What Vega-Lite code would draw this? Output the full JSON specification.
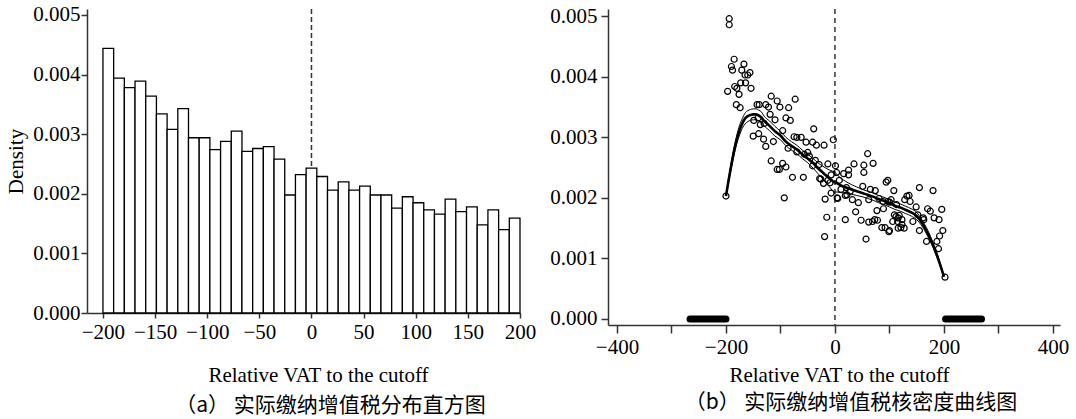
{
  "$schema": "https://vega.github.io/schema/vega-lite/v6.json",
  "background": "white",
  "padding": {"left": 5, "top": 3, "right": 0, "bottom": 3},
  "spacing": 13,
  "datasets": {
    "bins": [
      {"x0": -200, "x1": -189.744, "d": 0.00444},
      {"x0": -189.744, "x1": -179.487, "d": 0.00394},
      {"x0": -179.487, "x1": -169.231, "d": 0.00378},
      {"x0": -169.231, "x1": -158.974, "d": 0.00389},
      {"x0": -158.974, "x1": -148.718, "d": 0.00364},
      {"x0": -148.718, "x1": -138.462, "d": 0.00334},
      {"x0": -138.462, "x1": -128.205, "d": 0.00308},
      {"x0": -128.205, "x1": -117.949, "d": 0.00343},
      {"x0": -117.949, "x1": -107.692, "d": 0.00294},
      {"x0": -107.692, "x1": -97.436, "d": 0.00294},
      {"x0": -97.436, "x1": -87.179, "d": 0.00274},
      {"x0": -87.179, "x1": -76.923, "d": 0.00288},
      {"x0": -76.923, "x1": -66.667, "d": 0.00305},
      {"x0": -66.667, "x1": -56.41, "d": 0.00271},
      {"x0": -56.41, "x1": -46.154, "d": 0.00276},
      {"x0": -46.154, "x1": -35.897, "d": 0.00279},
      {"x0": -35.897, "x1": -25.641, "d": 0.00258},
      {"x0": -25.641, "x1": -15.385, "d": 0.00198},
      {"x0": -15.385, "x1": -5.128, "d": 0.00232},
      {"x0": -5.128, "x1": 5.128, "d": 0.00243},
      {"x0": 5.128, "x1": 15.385, "d": 0.00229},
      {"x0": 15.385, "x1": 25.641, "d": 0.00206},
      {"x0": 25.641, "x1": 35.897, "d": 0.0022},
      {"x0": 35.897, "x1": 46.154, "d": 0.00206},
      {"x0": 46.154, "x1": 56.41, "d": 0.00213},
      {"x0": 56.41, "x1": 66.667, "d": 0.00198},
      {"x0": 66.667, "x1": 76.923, "d": 0.00198},
      {"x0": 76.923, "x1": 87.179, "d": 0.00176},
      {"x0": 87.179, "x1": 97.436, "d": 0.00195},
      {"x0": 97.436, "x1": 107.692, "d": 0.00185},
      {"x0": 107.692, "x1": 117.949, "d": 0.00173},
      {"x0": 117.949, "x1": 128.205, "d": 0.00166},
      {"x0": 128.205, "x1": 138.462, "d": 0.00191},
      {"x0": 138.462, "x1": 148.718, "d": 0.0017},
      {"x0": 148.718, "x1": 158.974, "d": 0.00178},
      {"x0": 158.974, "x1": 169.231, "d": 0.00148},
      {"x0": 169.231, "x1": 179.487, "d": 0.00173},
      {"x0": 179.487, "x1": 189.744, "d": 0.0014},
      {"x0": 189.744, "x1": 200, "d": 0.00159}
    ],
    "cutL": [{"x0": 0}],
    "cutR": [{"x": 0}],
    "rug": [{"x": -266, "x2": -200}, {"x": 203, "x2": 269}],
    "pts": [
      {"x": -200, "y": 0.00203}, {"x": -194, "y": 0.00496}, {"x": -194, "y": 0.00486}, {"x": -185, "y": 0.00429},
      {"x": -190, "y": 0.00417}, {"x": -188, "y": 0.00411}, {"x": -167, "y": 0.00421}, {"x": -171, "y": 0.00411},
      {"x": -165, "y": 0.00403}, {"x": -160, "y": 0.00403}, {"x": -156, "y": 0.00407}, {"x": -173, "y": 0.0039},
      {"x": -164, "y": 0.0039}, {"x": -184, "y": 0.00384}, {"x": -180, "y": 0.00381}, {"x": -154, "y": 0.00381},
      {"x": -197, "y": 0.00376}, {"x": -176, "y": 0.00371}, {"x": -181, "y": 0.00354}, {"x": -174, "y": 0.00349},
      {"x": -143, "y": 0.00354}, {"x": -139, "y": 0.00354}, {"x": -127, "y": 0.00354}, {"x": -122, "y": 0.0035},
      {"x": -117, "y": 0.00368}, {"x": -106, "y": 0.0036}, {"x": -101, "y": 0.0035}, {"x": -85, "y": 0.00349},
      {"x": -73, "y": 0.00363}, {"x": -119, "y": 0.00338}, {"x": -110, "y": 0.00329}, {"x": -90, "y": 0.00332},
      {"x": -82, "y": 0.00328}, {"x": -149, "y": 0.00328}, {"x": -141, "y": 0.00332}, {"x": -137, "y": 0.00321},
      {"x": -130, "y": 0.00323}, {"x": -150, "y": 0.00302}, {"x": -140, "y": 0.00306}, {"x": -131, "y": 0.00297},
      {"x": -127, "y": 0.00285}, {"x": -113, "y": 0.00293}, {"x": -96, "y": 0.00311}, {"x": -75, "y": 0.00301},
      {"x": -70, "y": 0.003}, {"x": -62, "y": 0.003}, {"x": -53, "y": 0.00292}, {"x": -41, "y": 0.00292},
      {"x": -34, "y": 0.00287}, {"x": -20, "y": 0.00287}, {"x": -39, "y": 0.00314}, {"x": -3, "y": 0.00296},
      {"x": -86, "y": 0.00282}, {"x": -70, "y": 0.00276}, {"x": -56, "y": 0.00272}, {"x": -47, "y": 0.00269},
      {"x": -117, "y": 0.00261}, {"x": -106, "y": 0.00247}, {"x": -102, "y": 0.00247}, {"x": -96, "y": 0.00257},
      {"x": -90, "y": 0.00251}, {"x": -78, "y": 0.00234}, {"x": -58, "y": 0.00234}, {"x": -41, "y": 0.00253},
      {"x": -29, "y": 0.00255}, {"x": -28, "y": 0.00232}, {"x": -21, "y": 0.00224}, {"x": -13, "y": 0.00229},
      {"x": -7, "y": 0.00238}, {"x": -36, "y": 0.00262}, {"x": -50, "y": 0.00275}, {"x": -93, "y": 0.002},
      {"x": -18, "y": 0.00198}, {"x": -7, "y": 0.00208}, {"x": -15, "y": 0.00168}, {"x": -19, "y": 0.00136},
      {"x": -9, "y": 0.00225}, {"x": -26, "y": 0.00231}, {"x": -13, "y": 0.00256},
      {"x": 1, "y": 0.00253}, {"x": 3, "y": 0.00242}, {"x": 4, "y": 0.002}, {"x": 5, "y": 0.00199},
      {"x": 8, "y": 0.00229}, {"x": 11, "y": 0.00214}, {"x": 16, "y": 0.0024}, {"x": 19, "y": 0.00164},
      {"x": 19, "y": 0.00204}, {"x": 21, "y": 0.00217}, {"x": 22, "y": 0.00205}, {"x": 25, "y": 0.00246},
      {"x": 25, "y": 0.00238}, {"x": 28, "y": 0.00211}, {"x": 32, "y": 0.00197}, {"x": 35, "y": 0.00256},
      {"x": 38, "y": 0.00177}, {"x": 43, "y": 0.00192}, {"x": 48, "y": 0.00163}, {"x": 51, "y": 0.00219},
      {"x": 53, "y": 0.00254}, {"x": 53, "y": 0.00242}, {"x": 57, "y": 0.00132}, {"x": 60, "y": 0.00273},
      {"x": 62, "y": 0.0016}, {"x": 62, "y": 0.00197}, {"x": 65, "y": 0.00214}, {"x": 69, "y": 0.00161},
      {"x": 70, "y": 0.00257}, {"x": 73, "y": 0.00164}, {"x": 74, "y": 0.00212}, {"x": 77, "y": 0.00179},
      {"x": 78, "y": 0.00163}, {"x": 81, "y": 0.00199}, {"x": 86, "y": 0.00151}, {"x": 88, "y": 0.00194},
      {"x": 89, "y": 0.00182}, {"x": 92, "y": 0.00151}, {"x": 94, "y": 0.00226}, {"x": 97, "y": 0.00229},
      {"x": 97, "y": 0.00194}, {"x": 99, "y": 0.00144}, {"x": 100, "y": 0.00146}, {"x": 100, "y": 0.00193},
      {"x": 103, "y": 0.00197}, {"x": 106, "y": 0.00161}, {"x": 108, "y": 0.00212}, {"x": 109, "y": 0.00172},
      {"x": 112, "y": 0.00169}, {"x": 113, "y": 0.00189}, {"x": 115, "y": 0.00161}, {"x": 116, "y": 0.00167},
      {"x": 116, "y": 0.0015}, {"x": 118, "y": 0.00171}, {"x": 121, "y": 0.00151}, {"x": 123, "y": 0.00156},
      {"x": 123, "y": 0.00164}, {"x": 127, "y": 0.0015}, {"x": 128, "y": 0.00197}, {"x": 132, "y": 0.00203},
      {"x": 136, "y": 0.00204}, {"x": 138, "y": 0.00194}, {"x": 143, "y": 0.00161}, {"x": 149, "y": 0.00185},
      {"x": 152, "y": 0.00172}, {"x": 155, "y": 0.00217}, {"x": 155, "y": 0.00146}, {"x": 162, "y": 0.00167},
      {"x": 163, "y": 0.00164}, {"x": 168, "y": 0.00128}, {"x": 170, "y": 0.00182}, {"x": 175, "y": 0.00178},
      {"x": 180, "y": 0.00212}, {"x": 182, "y": 0.00167}, {"x": 187, "y": 0.00128}, {"x": 190, "y": 0.00116},
      {"x": 191, "y": 0.00164}, {"x": 192, "y": 0.00137}, {"x": 196, "y": 0.00181}, {"x": 198, "y": 0.00146},
      {"x": 202, "y": 0.00069}
    ],
    "curves": [
      {"s": "Le", "k": "est", "x": -200, "y": 0.00203}, {"s": "Le", "k": "est", "x": -195, "y": 0.0023},
      {"s": "Le", "k": "est", "x": -190, "y": 0.00255}, {"s": "Le", "k": "est", "x": -185, "y": 0.00278},
      {"s": "Le", "k": "est", "x": -180, "y": 0.00297}, {"s": "Le", "k": "est", "x": -175, "y": 0.00312},
      {"s": "Le", "k": "est", "x": -170, "y": 0.00323}, {"s": "Le", "k": "est", "x": -165, "y": 0.00331},
      {"s": "Le", "k": "est", "x": -160, "y": 0.00335}, {"s": "Le", "k": "est", "x": -155, "y": 0.00337},
      {"s": "Le", "k": "est", "x": -150, "y": 0.00338}, {"s": "Le", "k": "est", "x": -145, "y": 0.00338},
      {"s": "Le", "k": "est", "x": -140, "y": 0.00336}, {"s": "Le", "k": "est", "x": -135, "y": 0.00333},
      {"s": "Le", "k": "est", "x": -130, "y": 0.00327}, {"s": "Le", "k": "est", "x": -120, "y": 0.00319},
      {"s": "Le", "k": "est", "x": -110, "y": 0.0031}, {"s": "Le", "k": "est", "x": -100, "y": 0.00303},
      {"s": "Le", "k": "est", "x": -90, "y": 0.00293}, {"s": "Le", "k": "est", "x": -80, "y": 0.00286},
      {"s": "Le", "k": "est", "x": -70, "y": 0.0028}, {"s": "Le", "k": "est", "x": -60, "y": 0.00272},
      {"s": "Le", "k": "est", "x": -50, "y": 0.00265}, {"s": "Le", "k": "est", "x": -40, "y": 0.00257},
      {"s": "Le", "k": "est", "x": -30, "y": 0.00248}, {"s": "Le", "k": "est", "x": -20, "y": 0.0024},
      {"s": "Le", "k": "est", "x": -10, "y": 0.00232}, {"s": "Le", "k": "est", "x": 0, "y": 0.00225},
      {"s": "Ll", "k": "ci", "x": -200, "y": 0.00203}, {"s": "Ll", "k": "ci", "x": -195, "y": 0.00227},
      {"s": "Ll", "k": "ci", "x": -190, "y": 0.0025}, {"s": "Ll", "k": "ci", "x": -185, "y": 0.00272},
      {"s": "Ll", "k": "ci", "x": -180, "y": 0.0029}, {"s": "Ll", "k": "ci", "x": -175, "y": 0.00304},
      {"s": "Ll", "k": "ci", "x": -170, "y": 0.00315}, {"s": "Ll", "k": "ci", "x": -165, "y": 0.00322},
      {"s": "Ll", "k": "ci", "x": -160, "y": 0.00326}, {"s": "Ll", "k": "ci", "x": -155, "y": 0.00328},
      {"s": "Ll", "k": "ci", "x": -150, "y": 0.00329}, {"s": "Ll", "k": "ci", "x": -145, "y": 0.00329},
      {"s": "Ll", "k": "ci", "x": -140, "y": 0.00327}, {"s": "Ll", "k": "ci", "x": -135, "y": 0.00324},
      {"s": "Ll", "k": "ci", "x": -130, "y": 0.00319}, {"s": "Ll", "k": "ci", "x": -120, "y": 0.00311},
      {"s": "Ll", "k": "ci", "x": -110, "y": 0.00302}, {"s": "Ll", "k": "ci", "x": -100, "y": 0.00296},
      {"s": "Ll", "k": "ci", "x": -90, "y": 0.00286}, {"s": "Ll", "k": "ci", "x": -80, "y": 0.00279},
      {"s": "Ll", "k": "ci", "x": -70, "y": 0.00273}, {"s": "Ll", "k": "ci", "x": -60, "y": 0.00265},
      {"s": "Ll", "k": "ci", "x": -50, "y": 0.00258}, {"s": "Ll", "k": "ci", "x": -40, "y": 0.00249},
      {"s": "Ll", "k": "ci", "x": -30, "y": 0.00239}, {"s": "Ll", "k": "ci", "x": -20, "y": 0.00229},
      {"s": "Ll", "k": "ci", "x": -10, "y": 0.00218}, {"s": "Ll", "k": "ci", "x": 0, "y": 0.00207},
      {"s": "Lh", "k": "ci", "x": -200, "y": 0.00203}, {"s": "Lh", "k": "ci", "x": -195, "y": 0.00233},
      {"s": "Lh", "k": "ci", "x": -190, "y": 0.0026}, {"s": "Lh", "k": "ci", "x": -185, "y": 0.00284},
      {"s": "Lh", "k": "ci", "x": -180, "y": 0.00304}, {"s": "Lh", "k": "ci", "x": -175, "y": 0.0032},
      {"s": "Lh", "k": "ci", "x": -170, "y": 0.00331}, {"s": "Lh", "k": "ci", "x": -165, "y": 0.0034},
      {"s": "Lh", "k": "ci", "x": -160, "y": 0.00344}, {"s": "Lh", "k": "ci", "x": -155, "y": 0.00346},
      {"s": "Lh", "k": "ci", "x": -150, "y": 0.00347}, {"s": "Lh", "k": "ci", "x": -145, "y": 0.00347},
      {"s": "Lh", "k": "ci", "x": -140, "y": 0.00345}, {"s": "Lh", "k": "ci", "x": -135, "y": 0.00342},
      {"s": "Lh", "k": "ci", "x": -130, "y": 0.00335}, {"s": "Lh", "k": "ci", "x": -120, "y": 0.00327},
      {"s": "Lh", "k": "ci", "x": -110, "y": 0.00318}, {"s": "Lh", "k": "ci", "x": -100, "y": 0.0031},
      {"s": "Lh", "k": "ci", "x": -90, "y": 0.003}, {"s": "Lh", "k": "ci", "x": -80, "y": 0.00293},
      {"s": "Lh", "k": "ci", "x": -70, "y": 0.00287}, {"s": "Lh", "k": "ci", "x": -60, "y": 0.00279},
      {"s": "Lh", "k": "ci", "x": -50, "y": 0.00272}, {"s": "Lh", "k": "ci", "x": -40, "y": 0.00265},
      {"s": "Lh", "k": "ci", "x": -30, "y": 0.00257}, {"s": "Lh", "k": "ci", "x": -20, "y": 0.00251},
      {"s": "Lh", "k": "ci", "x": -10, "y": 0.00246}, {"s": "Lh", "k": "ci", "x": 0, "y": 0.00243},
      {"s": "Re", "k": "est", "x": 0, "y": 0.00226}, {"s": "Re", "k": "est", "x": 10, "y": 0.00221},
      {"s": "Re", "k": "est", "x": 20, "y": 0.00217}, {"s": "Re", "k": "est", "x": 30, "y": 0.00214},
      {"s": "Re", "k": "est", "x": 40, "y": 0.00211}, {"s": "Re", "k": "est", "x": 50, "y": 0.00208},
      {"s": "Re", "k": "est", "x": 60, "y": 0.00205}, {"s": "Re", "k": "est", "x": 70, "y": 0.00202},
      {"s": "Re", "k": "est", "x": 80, "y": 0.00198}, {"s": "Re", "k": "est", "x": 90, "y": 0.00195},
      {"s": "Re", "k": "est", "x": 100, "y": 0.00191}, {"s": "Re", "k": "est", "x": 110, "y": 0.00187},
      {"s": "Re", "k": "est", "x": 120, "y": 0.00184}, {"s": "Re", "k": "est", "x": 130, "y": 0.0018},
      {"s": "Re", "k": "est", "x": 140, "y": 0.00176}, {"s": "Re", "k": "est", "x": 150, "y": 0.0017},
      {"s": "Re", "k": "est", "x": 160, "y": 0.00158}, {"s": "Re", "k": "est", "x": 170, "y": 0.00142},
      {"s": "Re", "k": "est", "x": 180, "y": 0.00122}, {"s": "Re", "k": "est", "x": 190, "y": 0.00098},
      {"s": "Re", "k": "est", "x": 200, "y": 0.0007},
      {"s": "Rl", "k": "ci", "x": 0, "y": 0.0021}, {"s": "Rl", "k": "ci", "x": 10, "y": 0.00209},
      {"s": "Rl", "k": "ci", "x": 20, "y": 0.00207}, {"s": "Rl", "k": "ci", "x": 30, "y": 0.00206},
      {"s": "Rl", "k": "ci", "x": 40, "y": 0.00204}, {"s": "Rl", "k": "ci", "x": 50, "y": 0.00202},
      {"s": "Rl", "k": "ci", "x": 60, "y": 0.00199}, {"s": "Rl", "k": "ci", "x": 70, "y": 0.00196},
      {"s": "Rl", "k": "ci", "x": 80, "y": 0.00192}, {"s": "Rl", "k": "ci", "x": 90, "y": 0.00189},
      {"s": "Rl", "k": "ci", "x": 100, "y": 0.00185}, {"s": "Rl", "k": "ci", "x": 110, "y": 0.00181},
      {"s": "Rl", "k": "ci", "x": 120, "y": 0.00178}, {"s": "Rl", "k": "ci", "x": 130, "y": 0.00174},
      {"s": "Rl", "k": "ci", "x": 140, "y": 0.0017}, {"s": "Rl", "k": "ci", "x": 150, "y": 0.00164},
      {"s": "Rl", "k": "ci", "x": 160, "y": 0.00153}, {"s": "Rl", "k": "ci", "x": 170, "y": 0.00137},
      {"s": "Rl", "k": "ci", "x": 180, "y": 0.00118}, {"s": "Rl", "k": "ci", "x": 190, "y": 0.00095},
      {"s": "Rl", "k": "ci", "x": 200, "y": 0.0007},
      {"s": "Rh", "k": "ci", "x": 0, "y": 0.00242}, {"s": "Rh", "k": "ci", "x": 10, "y": 0.00233},
      {"s": "Rh", "k": "ci", "x": 20, "y": 0.00227}, {"s": "Rh", "k": "ci", "x": 30, "y": 0.00222},
      {"s": "Rh", "k": "ci", "x": 40, "y": 0.00218}, {"s": "Rh", "k": "ci", "x": 50, "y": 0.00214},
      {"s": "Rh", "k": "ci", "x": 60, "y": 0.00211}, {"s": "Rh", "k": "ci", "x": 70, "y": 0.00208},
      {"s": "Rh", "k": "ci", "x": 80, "y": 0.00204}, {"s": "Rh", "k": "ci", "x": 90, "y": 0.00201},
      {"s": "Rh", "k": "ci", "x": 100, "y": 0.00197}, {"s": "Rh", "k": "ci", "x": 110, "y": 0.00193},
      {"s": "Rh", "k": "ci", "x": 120, "y": 0.0019}, {"s": "Rh", "k": "ci", "x": 130, "y": 0.00186},
      {"s": "Rh", "k": "ci", "x": 140, "y": 0.00182}, {"s": "Rh", "k": "ci", "x": 150, "y": 0.00176},
      {"s": "Rh", "k": "ci", "x": 160, "y": 0.00163}, {"s": "Rh", "k": "ci", "x": 170, "y": 0.00147},
      {"s": "Rh", "k": "ci", "x": 180, "y": 0.00126}, {"s": "Rh", "k": "ci", "x": 190, "y": 0.00101},
      {"s": "Rh", "k": "ci", "x": 200, "y": 0.0007}
    ]
  },
  "hconcat": [
    {
      "width": 433,
      "height": 304,
      "title": {"text": "（a） 实际缴纳增值税分布直方图", "orient": "bottom", "font": "Noto Sans CJK SC", "fontSize": 21, "fontWeight": "normal", "color": "#000", "offset": 10, "anchor": "middle", "dx": 27},
      "encoding": {
        "x": {
          "field": "x0", "type": "quantitative",
          "scale": {"domain": [-215.3, 200], "nice": false, "zero": false},
          "axis": {"values": [-200, -150, -100, -50, 0, 50, 100, 150, 200], "format": "d", "title": "Relative VAT to the cutoff", "tickSize": 5, "labelPadding": 3, "titlePadding": 22, "titleX": 231, "labelFont": "Liberation Serif", "titleFont": "Liberation Serif"}
        }
      },
      "layer": [
        {
          "data": {"name": "cutL"},
          "mark": {"type": "rule", "stroke": "#333", "strokeWidth": 1.5, "strokeDash": [5, 3]}
        },
        {
          "data": {"name": "bins"},
          "mark": {"type": "bar", "fill": "white", "stroke": "black", "strokeWidth": 1.3},
          "encoding": {
            "x2": {"field": "x1"},
            "y": {
              "field": "d", "type": "quantitative",
              "scale": {"domain": [0, 0.0051], "nice": false, "zero": true},
              "axis": {"values": [0, 0.001, 0.002, 0.003, 0.004, 0.005], "format": ".3f", "title": "Density", "tickSize": 6, "labelPadding": 1, "titlePadding": 6, "labelFont": "Liberation Serif", "titleFont": "Liberation Serif"}
            },
            "y2": {"datum": 0}
          }
        }
      ]
    },
    {
      "width": 452,
      "height": 316,
      "title": {"text": "（b） 实际缴纳增值税核密度曲线图", "orient": "bottom", "font": "Noto Sans CJK SC", "fontSize": 21, "fontWeight": "normal", "color": "#000", "offset": 7, "anchor": "middle", "dx": 17},
      "encoding": {
        "x": {
          "field": "x", "type": "quantitative",
          "scale": {"domain": [-416.5, 413], "nice": false, "zero": false},
          "axis": {"values": [-400, -300, -200, -100, 0, 100, 200, 300, 400], "format": "d", "labelExpr": "abs(datum.value) % 200 === 0 ? datum.label : ''", "title": "Relative VAT to the cutoff", "tickSize": 8, "labelPadding": 3, "titlePadding": 7, "titleX": 231, "labelFont": "Liberation Serif", "titleFont": "Liberation Serif"}
        }
      },
      "layer": [
        {
          "data": {"name": "cutR"},
          "mark": {"type": "rule", "stroke": "black", "strokeWidth": 1.2, "strokeDash": [5, 4]}
        },
        {
          "data": {"name": "rug"},
          "mark": {"type": "rule", "stroke": "black", "strokeWidth": 7, "strokeCap": "round"},
          "encoding": {
            "x2": {"field": "x2"},
            "y": {"datum": 0, "type": "quantitative", "scale": {"domain": [-0.0001, 0.00512], "nice": false, "zero": false}, "axis": {"values": [0, 0.001, 0.002, 0.003, 0.004, 0.005], "format": ".3f", "title": null, "tickSize": 7, "labelPadding": 4, "labelFont": "Liberation Serif"}}
          }
        },
        {
          "data": {"name": "curves"},
          "mark": {"type": "line", "color": "black", "interpolate": "monotone"},
          "encoding": {
            "detail": {"field": "s", "type": "nominal"},
            "strokeWidth": {"field": "k", "type": "nominal", "scale": {"domain": ["est", "ci"], "range": [2.6, 1]}, "legend": null},
            "y": {"field": "y", "type": "quantitative", "scale": {"domain": [-0.0001, 0.00512], "nice": false, "zero": false}, "axis": {"values": [0, 0.001, 0.002, 0.003, 0.004, 0.005], "format": ".3f", "title": null, "tickSize": 7, "labelPadding": 4, "labelFont": "Liberation Serif"}}
          }
        },
        {
          "data": {"name": "pts"},
          "mark": {"type": "point", "shape": "circle", "filled": false, "stroke": "black", "strokeWidth": 1.2, "size": 36, "opacity": 1},
          "encoding": {
            "y": {"field": "y", "type": "quantitative", "scale": {"domain": [-0.0001, 0.00512], "nice": false, "zero": false}, "axis": {"values": [0, 0.001, 0.002, 0.003, 0.004, 0.005], "format": ".3f", "title": null, "tickSize": 7, "labelPadding": 4, "labelFont": "Liberation Serif"}}
          }
        }
      ]
    }
  ],
  "config": {
    "font": "Liberation Serif",
    "view": {"stroke": null},
    "axis": {
      "grid": false,
      "labelFont": "Liberation Serif",
      "labelFontSize": 21,
      "labelColor": "#000",
      "titleFont": "Liberation Serif",
      "titleFontSize": 21,
      "titleFontWeight": "normal",
      "titleColor": "#000",
      "domainColor": "#333",
      "domainWidth": 1.5,
      "tickColor": "#333",
      "tickWidth": 1.5,
      "labelFlush": false,
      "labelOverlap": false
    }
  }
}
